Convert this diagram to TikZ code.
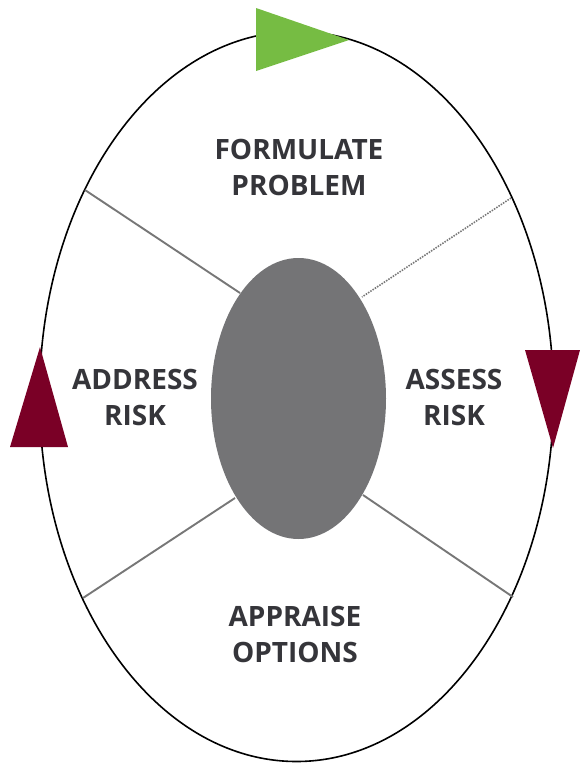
\documentclass[tikz,border=0pt]{standalone}
\usepackage{fontspec}
\setmainfont{Open Sans}
\definecolor{leafgreen}{HTML}{76BC43}
\definecolor{wine}{HTML}{7A0026}
\definecolor{core}{HTML}{747476}
\definecolor{spoke}{HTML}{777777}
\definecolor{ink}{HTML}{35353A}
\tikzset{
  steptext/.style={align=center,text=ink,font=\bfseries\fontsize{28}{36}\selectfont},
  spokeline/.style={draw=spoke,line width=1.9pt},
}
\begin{document}
\begin{tikzpicture}[x=1pt,y=-1pt]
		\useasboundingbox (0,0) rectangle (580,764);
		\draw [line width=1.6pt] (296.5,396.5) ellipse (257 and 365);
		\fill [core] (298.5,398.5) ellipse (87.5 and 140.5);
		\coordinate (A) at (85,190);
		\coordinate (B) at (240,293);
		\coordinate (C) at (511,198);
		\coordinate (D) at (362,297);
		\coordinate (E) at (83,598);
		\coordinate (F) at (235,498);
		\coordinate (G) at (513,597);
		\coordinate (H) at (363,495);
		\draw [spokeline] (A) to (B);
		\draw [spokeline,dash pattern=on 1.5pt off 1.2pt,line width=1.6pt] (C) to (D);
		\draw [spokeline] (E) to (F);
		\draw [spokeline] (G) to (H);
		\fill [leafgreen] (256,8) -- (256,71) -- (349,40) -- cycle;
		\fill [wine] (525,350) -- (580,350) -- (553,448) -- cycle;
		\fill [wine] (10,447) -- (68,447) -- (40,347) -- cycle;
		\node [steptext] (formulate) at (299,167) {FORMULATE\\PROBLEM};
		\node [steptext] (address) at (135,397) {ADDRESS\\RISK};
		\node [steptext] (assess) at (454,397) {ASSESS\\RISK};
		\node [steptext] (appraise) at (295,634) {APPRAISE\\OPTIONS};
	\end{tikzpicture}
\end{document}
